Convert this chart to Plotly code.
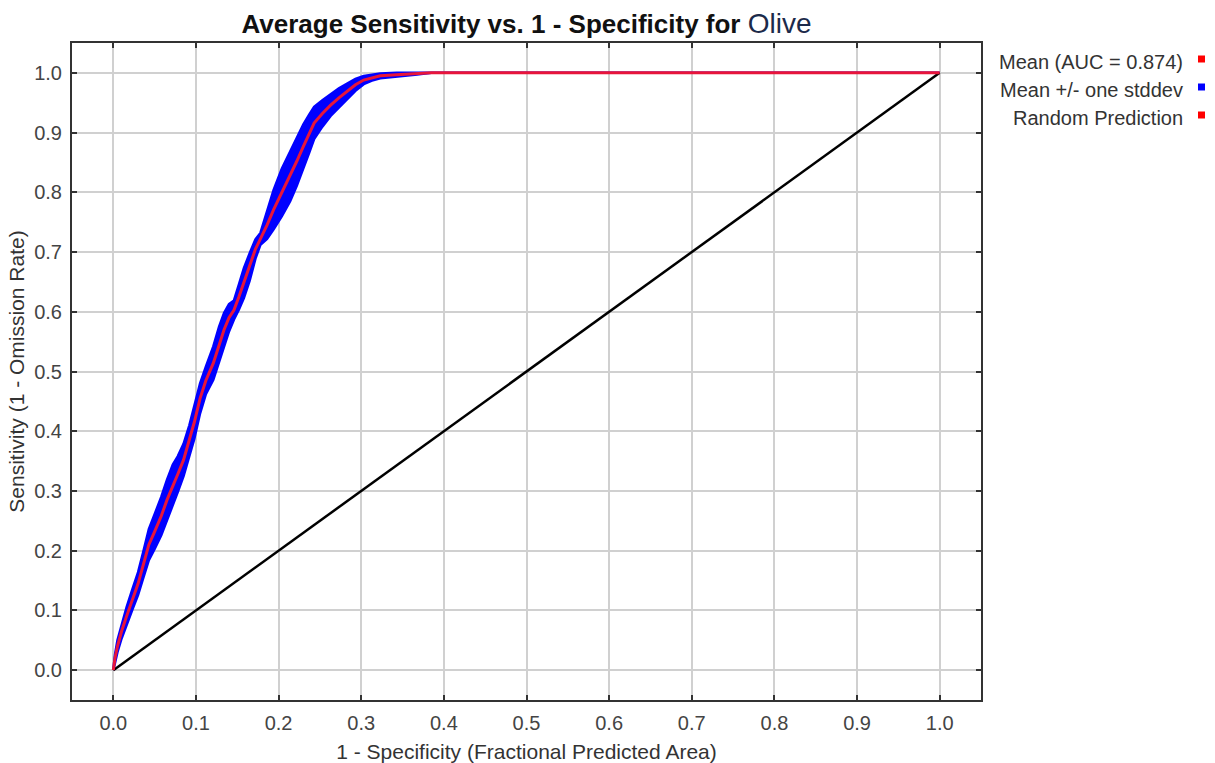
import plotly.graph_objects as go

# Mean ROC curve (1 - specificity, sensitivity)
mean_x = [0.000, 0.002, 0.005, 0.010, 0.016, 0.023, 0.030, 0.036, 0.043, 0.050,
          0.058, 0.065, 0.072, 0.078, 0.085, 0.092, 0.098, 0.105, 0.112, 0.121,
          0.128, 0.134, 0.140, 0.146, 0.152, 0.158, 0.165, 0.172, 0.178, 0.186,
          0.194, 0.204, 0.214, 0.222, 0.230, 0.237, 0.243, 0.253, 0.263, 0.273,
          0.283, 0.293, 0.303, 0.313, 0.323, 0.343, 0.365, 0.385, 1.000]
mean_y = [0.000, 0.020, 0.040, 0.065, 0.090, 0.118, 0.145, 0.175, 0.210, 0.232,
          0.258, 0.285, 0.310, 0.328, 0.352, 0.385, 0.415, 0.455, 0.485, 0.514,
          0.545, 0.570, 0.590, 0.603, 0.625, 0.648, 0.675, 0.705, 0.722, 0.745,
          0.771, 0.800, 0.827, 0.852, 0.877, 0.898, 0.916, 0.932, 0.946, 0.958,
          0.969, 0.980, 0.988, 0.992, 0.995, 0.997, 0.999, 1.000, 1.000]
# standard deviation of sensitivity at each point
std_y = [0.000, 0.006, 0.010, 0.012, 0.015, 0.017, 0.019, 0.022, 0.026, 0.029,
         0.032, 0.034, 0.034, 0.030, 0.027, 0.025, 0.028, 0.025, 0.023, 0.028,
         0.030, 0.028, 0.023, 0.016, 0.021, 0.025, 0.023, 0.016, 0.010, 0.023,
         0.033, 0.040, 0.042, 0.041, 0.037, 0.032, 0.027, 0.022, 0.018, 0.016,
         0.013, 0.010, 0.007, 0.005, 0.004, 0.003, 0.002, 0.000, 0.000]

random_x = [0.0, 1.0]
random_y = [0.0, 1.0]

tick_vals = [0.0, 0.1, 0.2, 0.3, 0.4, 0.5, 0.6, 0.7, 0.8, 0.9, 1.0]
tick_text = ["0.0", "0.1", "0.2", "0.3", "0.4", "0.5", "0.6", "0.7", "0.8", "0.9", "1.0"]

legend_labels = ["Mean (AUC = 0.874)", "Mean +/- one stddev", "Random Prediction"]
legend_colors = ["#ff0000", "#0000ff", "#ff0000"]

upper_y = [min(1.0, m + s) for m, s in zip(mean_y, std_y)]
lower_y = [max(0.0, m - s) for m, s in zip(mean_y, std_y)]

FONT = "Liberation Sans, Arial, sans-serif"

fig = go.Figure()

# std band as closed polygon
fig.add_trace(go.Scatter(
    x=mean_x + mean_x[::-1],
    y=upper_y + lower_y[::-1],
    fill="toself", fillcolor="#0000ff",
    line=dict(color="#0000ff", width=2.5),
    mode="lines", hoverinfo="skip", showlegend=False))

fig.add_trace(go.Scatter(
    x=random_x, y=random_y, mode="lines",
    line=dict(color="#000000", width=2.5), showlegend=False))

fig.add_trace(go.Scatter(
    x=mean_x, y=mean_y, mode="lines",
    line=dict(color="#e8153a", width=3), showlegend=False))

W, H = 1215, 763
L, T = 72, 43
R = W - 981
B = H - 700
pw, ph = W - L - R, H - T - B

axis_common = dict(
    range=[-0.05, 1.05], tickvals=tick_vals, ticktext=tick_text,
    showgrid=True, gridcolor="#d0d0d0", gridwidth=1.5,
    zeroline=False, showline=True, linecolor="#333333", linewidth=2,
    mirror="ticks", ticks="inside", ticklen=5, tickwidth=1.5, tickcolor="#333333",
    tickfont=dict(family=FONT, size=20, color="#444444"),
)

fig.update_layout(
    width=W, height=H,
    margin=dict(l=L, r=R, t=T, b=B, autoexpand=False),
    plot_bgcolor="white", paper_bgcolor="white",
    showlegend=False,
    xaxis=dict(**axis_common, ticklabelstandoff=4,
               title=dict(text="1 - Specificity (Fractional Predicted Area)",
                          font=dict(family=FONT, size=21, color="#333333"),
                          standoff=18)),
    yaxis=dict(**axis_common, ticklabelstandoff=4,
               title=dict(text="Sensitivity (1 - Omission Rate)",
                          font=dict(family=FONT, size=21, color="#333333"),
                          standoff=4)),
    title=dict(
        text="<b>Average Sensitivity vs. 1 - Specificity for </b><span style='font-size:28px;color:#1c2a4a'>Olive</span>",
        font=dict(family=FONT, size=26, color="#111111"),
        x=(L + pw / 2) / W, xanchor="center", y=1 - 24 / H, yanchor="middle"),
)

legend_py = [62, 90, 118]
for lab, col, py in zip(legend_labels, legend_colors, legend_py):
    yp = (H - B - py) / ph
    fig.add_annotation(xref="paper", yref="paper", x=(1185 - L) / pw, y=yp,
                       text=lab, showarrow=False, xanchor="right", yanchor="middle",
                       font=dict(family=FONT, size=20, color="#333333"))
    yc = (H - B - (py - 3)) / ph
    fig.add_shape(type="rect", xref="paper", yref="paper",
                  x0=(1198 - L) / pw, x1=(1205 - L) / pw,
                  y0=yc - 3.5 / ph, y1=yc + 3.5 / ph,
                  fillcolor=col, line=dict(width=0))

fig.write_html("out.html",
               config={"displayModeBar": False},
               post_script="document.body.style.margin='0';document.body.style.overflow='hidden';")
